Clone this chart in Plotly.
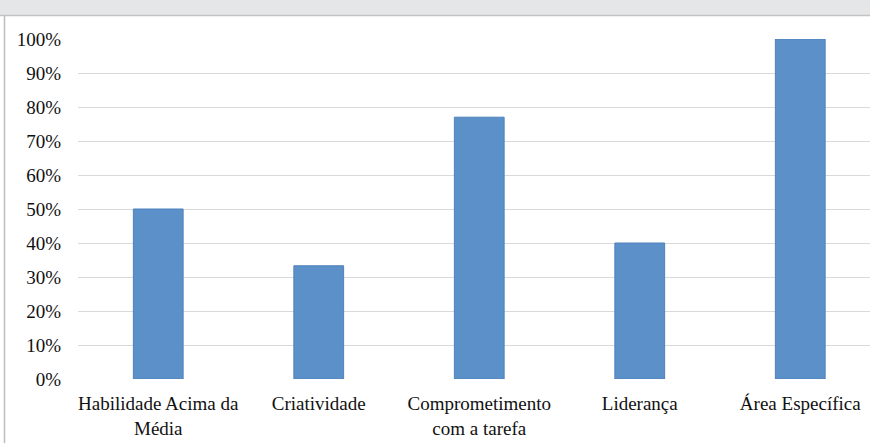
import plotly.graph_objects as go

categories = ["Habilidade Acima da<br>Média", "Criatividade", "Comprometimento<br>com a tarefa", "Liderança", "Área Específica"]
values = [0.50, 0.333, 0.77, 0.40, 1.00]
tick_vals = [0, 0.1, 0.2, 0.3, 0.4, 0.5, 0.6, 0.7, 0.8, 0.9, 1.0]
tick_text = ["0%", "10%", "20%", "30%", "40%", "50%", "60%", "70%", "80%", "90%", "100%"]

W, H = 870, 443
L, R, T, B = 78, 0, 39, 64
pw = W - L - R
ph = H - T - B

def px_x(x):
    return (x - L) / pw

def px_y(y):
    return (H - B - y) / ph

fig = go.Figure(go.Bar(
    x=list(range(len(categories))), y=values,
    marker=dict(color="#5b90c8", line=dict(color="#4f81bd", width=1)),
    width=0.31,
))

fig.update_layout(
    width=W, height=H,
    margin=dict(l=L, r=R, t=T, b=B),
    paper_bgcolor="white", plot_bgcolor="white",
    showlegend=False,
    font=dict(family="Liberation Serif", size=19, color="#111"),
    xaxis=dict(
        tickmode="array", tickvals=list(range(len(categories))), ticktext=categories,
        range=[-0.5, -0.5 + pw / 160.5],
        showgrid=False, zeroline=False, showline=False,
        ticks="outside", ticklen=7, tickcolor="rgba(0,0,0,0)",
        tickangle=0,
    ),
    yaxis=dict(
        range=[0, 1.0], tickvals=tick_vals, ticktext=tick_text,
        showgrid=True, gridcolor="#d9d9d9", gridwidth=1,
        zeroline=False, showline=False,
        ticks="outside", ticklen=12, tickcolor="rgba(0,0,0,0)",
    ),
    shapes=[
        dict(type="rect", xref="paper", yref="paper", x0=px_x(-5), x1=px_x(W + 5),
             y0=px_y(15), y1=px_y(-5), fillcolor="#e5e6e8", line=dict(width=0), layer="above"),
        dict(type="line", xref="paper", yref="paper", x0=px_x(-5), x1=px_x(W + 5),
             y0=px_y(15.5), y1=px_y(15.5), line=dict(color="#c4c4c4", width=1.5)),
        dict(type="line", xref="paper", yref="paper", x0=px_x(4.5), x1=px_x(4.5),
             y0=px_y(15.5), y1=px_y(H + 5), line=dict(color="#bdbdbd", width=1.5)),
    ],
)

fig.write_html(
    "out.html",
    config={"displayModeBar": False},
    post_script="document.body.style.margin='0';document.body.style.overflow='hidden';",
)
